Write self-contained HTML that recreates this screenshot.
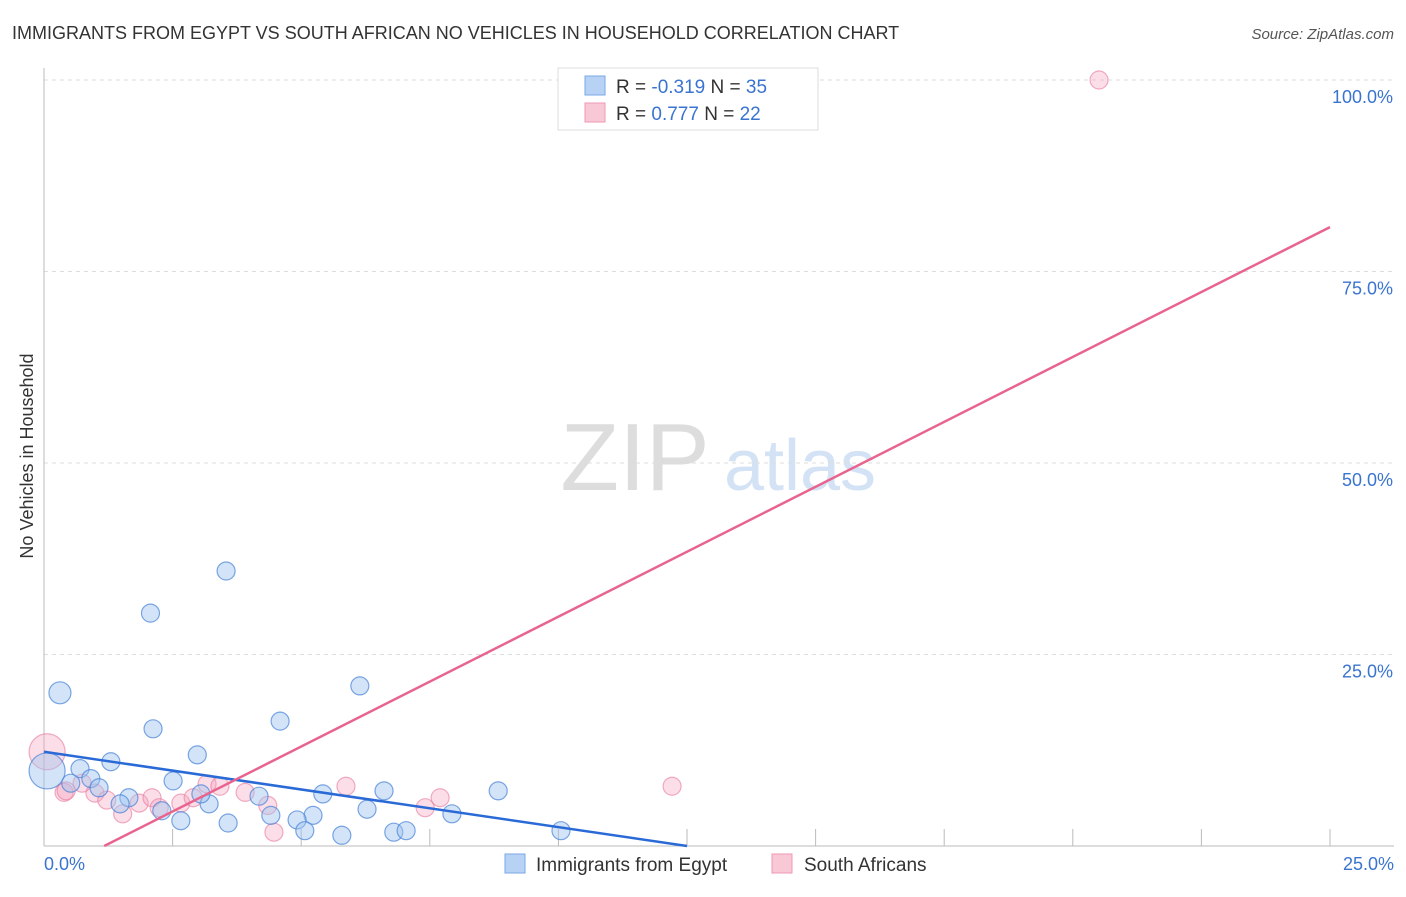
<!DOCTYPE html>
<html><head><meta charset="utf-8">
<style>
body{margin:0;background:#fff;font-family:"Liberation Sans",sans-serif;}
svg text{font-family:"Liberation Sans",sans-serif;}
</style></head>
<body>
<svg id="chart" width="1406" height="892" xmlns="http://www.w3.org/2000/svg">
<text x="12" y="39" font-size="18" fill="#333">IMMIGRANTS FROM EGYPT VS SOUTH AFRICAN NO VEHICLES IN HOUSEHOLD CORRELATION CHART</text>
<text x="1394" y="39" font-size="15" fill="#555" text-anchor="end" font-style="italic">Source: ZipAtlas.com</text>
<text x="0" y="0" font-size="18" fill="#333" text-anchor="middle" transform="translate(33,456) rotate(-90)">No Vehicles in Household</text>
<g>
<text x="635" y="490" font-size="96" fill="#ddd" font-family="Liberation Serif" text-anchor="middle">ZIP</text>
<text x="800" y="490" font-size="72" fill="#d4e2f5" text-anchor="middle">atlas</text>
</g>
<g id="grid"></g>
<g id="axes"></g>
<g id="points"></g>
<g id="lines"></g>
<g>
<rect x="558" y="68" width="260" height="62" fill="#fff" stroke="#ddd"/>
<rect x="585" y="76" width="20" height="19" fill="#b8d2f5" stroke="#7aa8e6"/>
<rect x="585" y="103" width="20" height="19" fill="#f9c8d6" stroke="#ee98b2"/>
<text x="616" y="93" font-size="19" fill="#333">R = <tspan fill="#3a74d0">-0.319</tspan>   N = <tspan fill="#3a74d0">35</tspan></text>
<text x="616" y="120" font-size="19" fill="#333">R =  <tspan fill="#3a74d0"> 0.777</tspan>   N = <tspan fill="#3a74d0">22</tspan></text>
</g>
<g>
<rect x="505" y="854" width="20" height="19" fill="#b8d2f5" stroke="#7aa8e6"/>
<text x="536" y="871" font-size="19" fill="#333">Immigrants from Egypt</text>
<rect x="772" y="854" width="20" height="19" fill="#f9c8d6" stroke="#ee98b2"/>
<text x="804" y="871" font-size="19" fill="#333">South Africans</text>
</g>
</svg>
<script>
const xTicks=[0,25];
const xTickLabels=["0.0%","25.0%"];
const yTicks=[25,50,75,100];
const yTickLabels=["25.0%","50.0%","75.0%","100.0%"];
const egyptX=[0.31,2.07,3.54,6.14,4.59,2.12,2.98,1.30,0.70,0.91,1.07,0.06,2.51,4.18,5.42,6.61,8.83,1.65,1.48,2.29,3.21,3.05,4.41,5.23,6.28,7.93,2.66,3.58,4.92,5.07,5.79,6.80,7.04,10.05,0.52];
const egyptY=[20.0,30.4,35.9,20.9,16.3,15.3,11.9,11.0,10.1,8.8,7.6,9.8,8.5,6.5,6.8,7.2,7.2,6.3,5.5,4.6,5.5,6.8,4.0,4.0,4.8,4.2,3.3,3.0,3.4,2.0,1.4,1.8,2.0,2.0,8.2];
const egyptR=[11,9,9,9,9,9,9,9,9,9,9,18,9,9,9,9,9,9,9,9,9,9,9,9,9,9,9,9,9,9,9,9,9,9,9];
const saX=[20.51,0.06,0.39,0.99,1.22,1.53,1.85,2.1,2.24,2.66,2.9,3.17,3.42,3.91,4.35,4.47,5.87,7.41,7.7,12.21,0.74,0.43];
const saY=[100,12.3,7.0,6.9,6.0,4.2,5.6,6.3,5.0,5.6,6.3,8.1,7.8,7.0,5.3,1.8,7.8,5.0,6.3,7.8,8.2,7.2];
const saR=[9,18,9,9,9,9,9,9,9,9,9,9,9,9,9,9,9,9,9,9,9,9];
const egyptTrend=[[0,12.3],[12.5,0]];
const saTrend=[[1.17,0],[25,80.8]];
const X0=44,X1=1330,Y0=846,Y100=80;
const sx=v=>X0+(X1-X0)*v/25;
const sy=v=>Y0-(Y0-Y100)*v/100;
const NS="http://www.w3.org/2000/svg";
function mk(t,a,p){const e=document.createElementNS(NS,t);for(const k in a)e.setAttribute(k,a[k]);p.appendChild(e);return e;}
const grid=document.getElementById('grid'),axes=document.getElementById('axes'),pts=document.getElementById('points'),lines=document.getElementById('lines');
yTicks.forEach((v,i)=>{
 const l=mk('line',{x1:X0,x2:1394,y1:sy(v),y2:sy(v),stroke:'#ddd','stroke-dasharray':'4,4'},grid);
 
 
 const t=mk('text',{x:1393,y:sy(v)+23,'font-size':18,fill:'#3a74d0','text-anchor':'end'},axes);
 t.textContent=yTickLabels[i];
 
 
});
const ya=mk('line',{x1:X0,x2:X0,y1:68,y2:Y0,stroke:'#bbb'},axes);


const xa=mk('line',{x1:X0,x2:1394,y1:Y0,y2:Y0,stroke:'#bbb'},axes);


for(let i=1;i<=10;i++){
 const tk=mk('line',{x1:sx(i*2.5),x2:sx(i*2.5),y1:Y0-17,y2:Y0,stroke:'#bbb'},axes);
 
 
}
xTicks.forEach((v,i)=>{
 const t=mk('text',{x:i==0?sx(v):1394,y:870,'font-size':18,fill:'#3a74d0','text-anchor':i==0?'start':'end'},axes);
 t.textContent=xTickLabels[i];
 
 
});
saX.forEach((v,i)=>{
 const c=mk('circle',{cx:sx(v),cy:sy(saY[i]),r:saR[i],fill:'rgba(244,160,188,0.35)',stroke:'rgba(232,120,155,0.6)','stroke-width':1.2},pts);
 
 
});
egyptX.forEach((v,i)=>{
 const c=mk('circle',{cx:sx(v),cy:sy(egyptY[i]),r:egyptR[i],fill:'rgba(160,195,240,0.45)',stroke:'rgba(70,130,215,0.7)','stroke-width':1.2},pts);
 
 
});
const bl=mk('line',{x1:sx(egyptTrend[0][0]),y1:sy(egyptTrend[0][1]),x2:sx(egyptTrend[1][0]),y2:sy(egyptTrend[1][1]),stroke:'#2a6ad6','stroke-width':2.5},lines);


const pl=mk('line',{x1:sx(saTrend[0][0]),y1:sy(saTrend[0][1]),x2:sx(saTrend[1][0]),y2:sy(saTrend[1][1]),stroke:'#e8648e','stroke-width':2.5},lines);


</script>
</body></html>
